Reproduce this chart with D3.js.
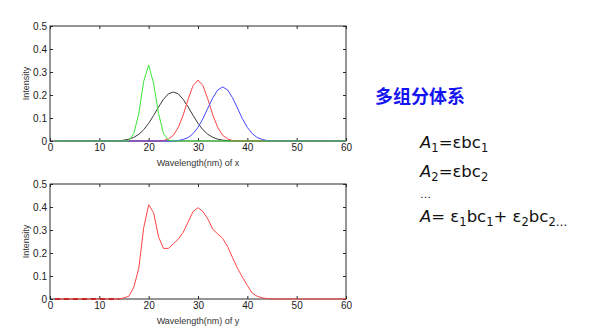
<!DOCTYPE html>
<html><head><meta charset="utf-8">
<script src="https://cdn.jsdelivr.net/npm/d3@7"></script>
<style>
html,body{margin:0;padding:0;background:#fff;}
svg{display:block;}
</style></head>
<body>
<svg id="c" width="594" height="336"></svg>
<script>
// ---------- data ----------
const wavelength = [1,2,3,4,5,6,7,8,9,10,11,12,13,14,15,16,17,18,19,20,21,22,23,24,25,26,27,28,29,30,
  31,32,33,34,35,36,37,38,39,40,41,42,43,44,45,46,47,48,49,50,51,52,53,54,55,56,57,58,59,60];
const greenX = [0,0,0,0,0,0,0,0,0,0,
  0,0,0,0,0,0.002,0.033,0.12,0.26,0.33,
  0.25,0.12,0.033,0.004,0,0,0,0,0,0,
  0,0,0,0,0,0,0,0,0,0, 0,0,0,0,0,0,0,0,0,0, 0,0,0,0,0,0,0,0,0,0];
const blackX = [0,0,0,0,0,0,0,0,0,0,
  0,0,0,0,0.004,0.008,0.016,0.029,0.049,0.077,
  0.111,0.148,0.181,0.205,0.213,0.205,0.181,0.148,0.111,0.077,
  0.049,0.029,0.016,0.008,0.004,0.002,0.001,0,0,0,
  0,0,0,0,0,0,0,0,0,0, 0,0,0,0,0,0,0,0,0,0];
const redX = [0,0,0,0,0,0,0,0,0,0, 0,0,0,0,0,0,0,0,0,0,
  0,0,0.002,0.009,0.025,0.059,0.113,0.182,0.241,0.265,
  0.241,0.182,0.113,0.059,0.025,0.009,0.002,0,0,0,
  0,0,0,0,0,0,0,0,0,0, 0,0,0,0,0,0,0,0,0,0];
const blueX = [0,0,0,0,0,0,0,0,0,0, 0,0,0,0,0,0,0,0,0,0,
  0,0,0,0,0,0.002,0.007,0.015,0.032,0.059,
  0.097,0.143,0.188,0.222,0.235,0.222,0.188,0.143,0.097,0.059,
  0.032,0.015,0.007,0.002,0,0,0,0,0,0,
  0,0,0,0,0,0,0,0,0,0];
const mixY = [0,0,0,0,0,0,0,0,0,0,
  0,0,0,0,0.005,0.012,0.052,0.134,0.31,0.41,
  0.375,0.27,0.22,0.22,0.24,0.26,0.29,0.335,0.38,0.397,
  0.38,0.348,0.303,0.283,0.263,0.228,0.18,0.134,0.095,0.059,
  0.025,0.012,0.005,0.002,0,0,0,0,0,0,
  0,0,0,0,0,0,0,0,0,0];
const xTicks = [0,10,20,30,40,50,60];
const yTicks = [0,0.1,0.2,0.3,0.4,0.5];
const xLabels = ["Wavelength(nm) of x","Wavelength(nm) of y"];
const yLabel = "Intensity";
const title = "多组分体系";

// ---------- drawing ----------
const svg = d3.select("#c");
const tickFont = "Liberation Sans, Arial, sans-serif";

function panel(top, bottom, seriesList, xLabel){
  const left = 50, right = 346;
  const x = d3.scaleLinear().domain([0,60]).range([left,right]);
  const y = d3.scaleLinear().domain([0,0.5]).range([bottom,top]);
  const g = svg.append("g");
  g.append("rect").attr("x",left).attr("y",top).attr("width",right-left).attr("height",bottom-top)
    .attr("fill","#fff").attr("stroke","#2a2a2a").attr("stroke-width",1);
  const ax = (sel)=>{sel.selectAll(".domain").remove(); sel.selectAll("line").attr("stroke","#2a2a2a");
    sel.selectAll("text").attr("fill","#1a1a1a").style("font-family",tickFont).style("font-size","10px");};
  g.append("g").attr("transform",`translate(0,${bottom})`)
    .call(d3.axisBottom(x).tickValues(xTicks).tickSizeInner(-3).tickSizeOuter(0).tickPadding(3).tickFormat(d3.format("d"))).call(ax);
  g.append("g").attr("transform",`translate(0,${top})`)
    .call(d3.axisTop(x).tickValues(xTicks).tickSizeInner(-3).tickSizeOuter(0).tickFormat("")).call(ax);
  g.append("g").attr("transform",`translate(${left},0)`)
    .call(d3.axisLeft(y).tickValues(yTicks).tickSizeInner(-3).tickSizeOuter(0).tickPadding(3).tickFormat(d=>d===0?"0":d3.format(".1f")(d))).call(ax);
  g.append("g").attr("transform",`translate(${right},0)`)
    .call(d3.axisRight(y).tickValues(yTicks).tickSizeInner(-3).tickSizeOuter(0).tickFormat("")).call(ax);
  const line = d3.line().x((d,i)=>x(wavelength[i])).y(d=>y(d));
  seriesList.forEach(s=>{
    g.append("path").datum(s.values).attr("d",line).attr("fill","none")
      .attr("stroke",s.color).attr("stroke-width",s.width||1).attr("stroke-dasharray",s.dash||null);
  });
  g.append("text").attr("x",(left+right)/2).attr("y",bottom+25).attr("text-anchor","middle")
    .style("font-family",tickFont).style("font-size","9px").attr("fill","#333").text(xLabel);
  g.append("text").attr("transform",`translate(29,${(top+bottom)/2}) rotate(-90)`).attr("text-anchor","middle")
    .style("font-family",tickFont).style("font-size","9px").attr("fill","#333").text(yLabel);
}

panel(26, 141, [
  {values:blackX,color:"#3a3a3a"},
  {values:redX,color:"#ff4545"},
  {values:blueX,color:"#4545ff"},
  {values:greenX,color:"#3ae63a"}
], xLabels[0]);

panel(184, 299, [
  {values:mixY,color:"#ff4545"},
  {values:mixY.map(v=>v===0?0:null),color:"#c81010",width:1.6,dash:"5,4"}
], xLabels[1]);

// right-hand text
svg.append("text").attr("x",375).attr("y",103)
  .style("font-family","Noto Sans CJK SC").style("font-weight","bold").style("font-size","18px")
  .attr("fill","#1414f0").text(title);

const eqFont = "DejaVu Sans, sans-serif";
function eq(yb, parts){
  const t = svg.append("text").attr("x",420).attr("y",yb).style("font-family",eqFont).style("font-size","16.5px").attr("fill","#111");
  parts.forEach(p=>{
    const ts = t.append("tspan").text(p.t);
    if(p.i) ts.style("font-style","italic");
    if(p.sub) ts.style("font-size","11.5px").attr("dy",4);
    if(p.up) ts.attr("dy",-4);
  });
}
eq(148,[{t:"A",i:1},{t:"1",sub:1},{t:"=εbc",up:1},{t:"1",sub:1}]);
eq(177,[{t:"A",i:1},{t:"2",sub:1},{t:"=εbc",up:1},{t:"2",sub:1}]);
svg.append("text").attr("x",420).attr("y",198).style("font-family",eqFont).style("font-size","11px").attr("fill","#111").text("…");
eq(222,[{t:"A",i:1},{t:"= ε"},{t:"1",sub:1},{t:"bc",up:1},{t:"1",sub:1},{t:"+ ε",up:1},{t:"2",sub:1},{t:"bc",up:1},{t:"2…",sub:1}]);
</script>
</body></html>
